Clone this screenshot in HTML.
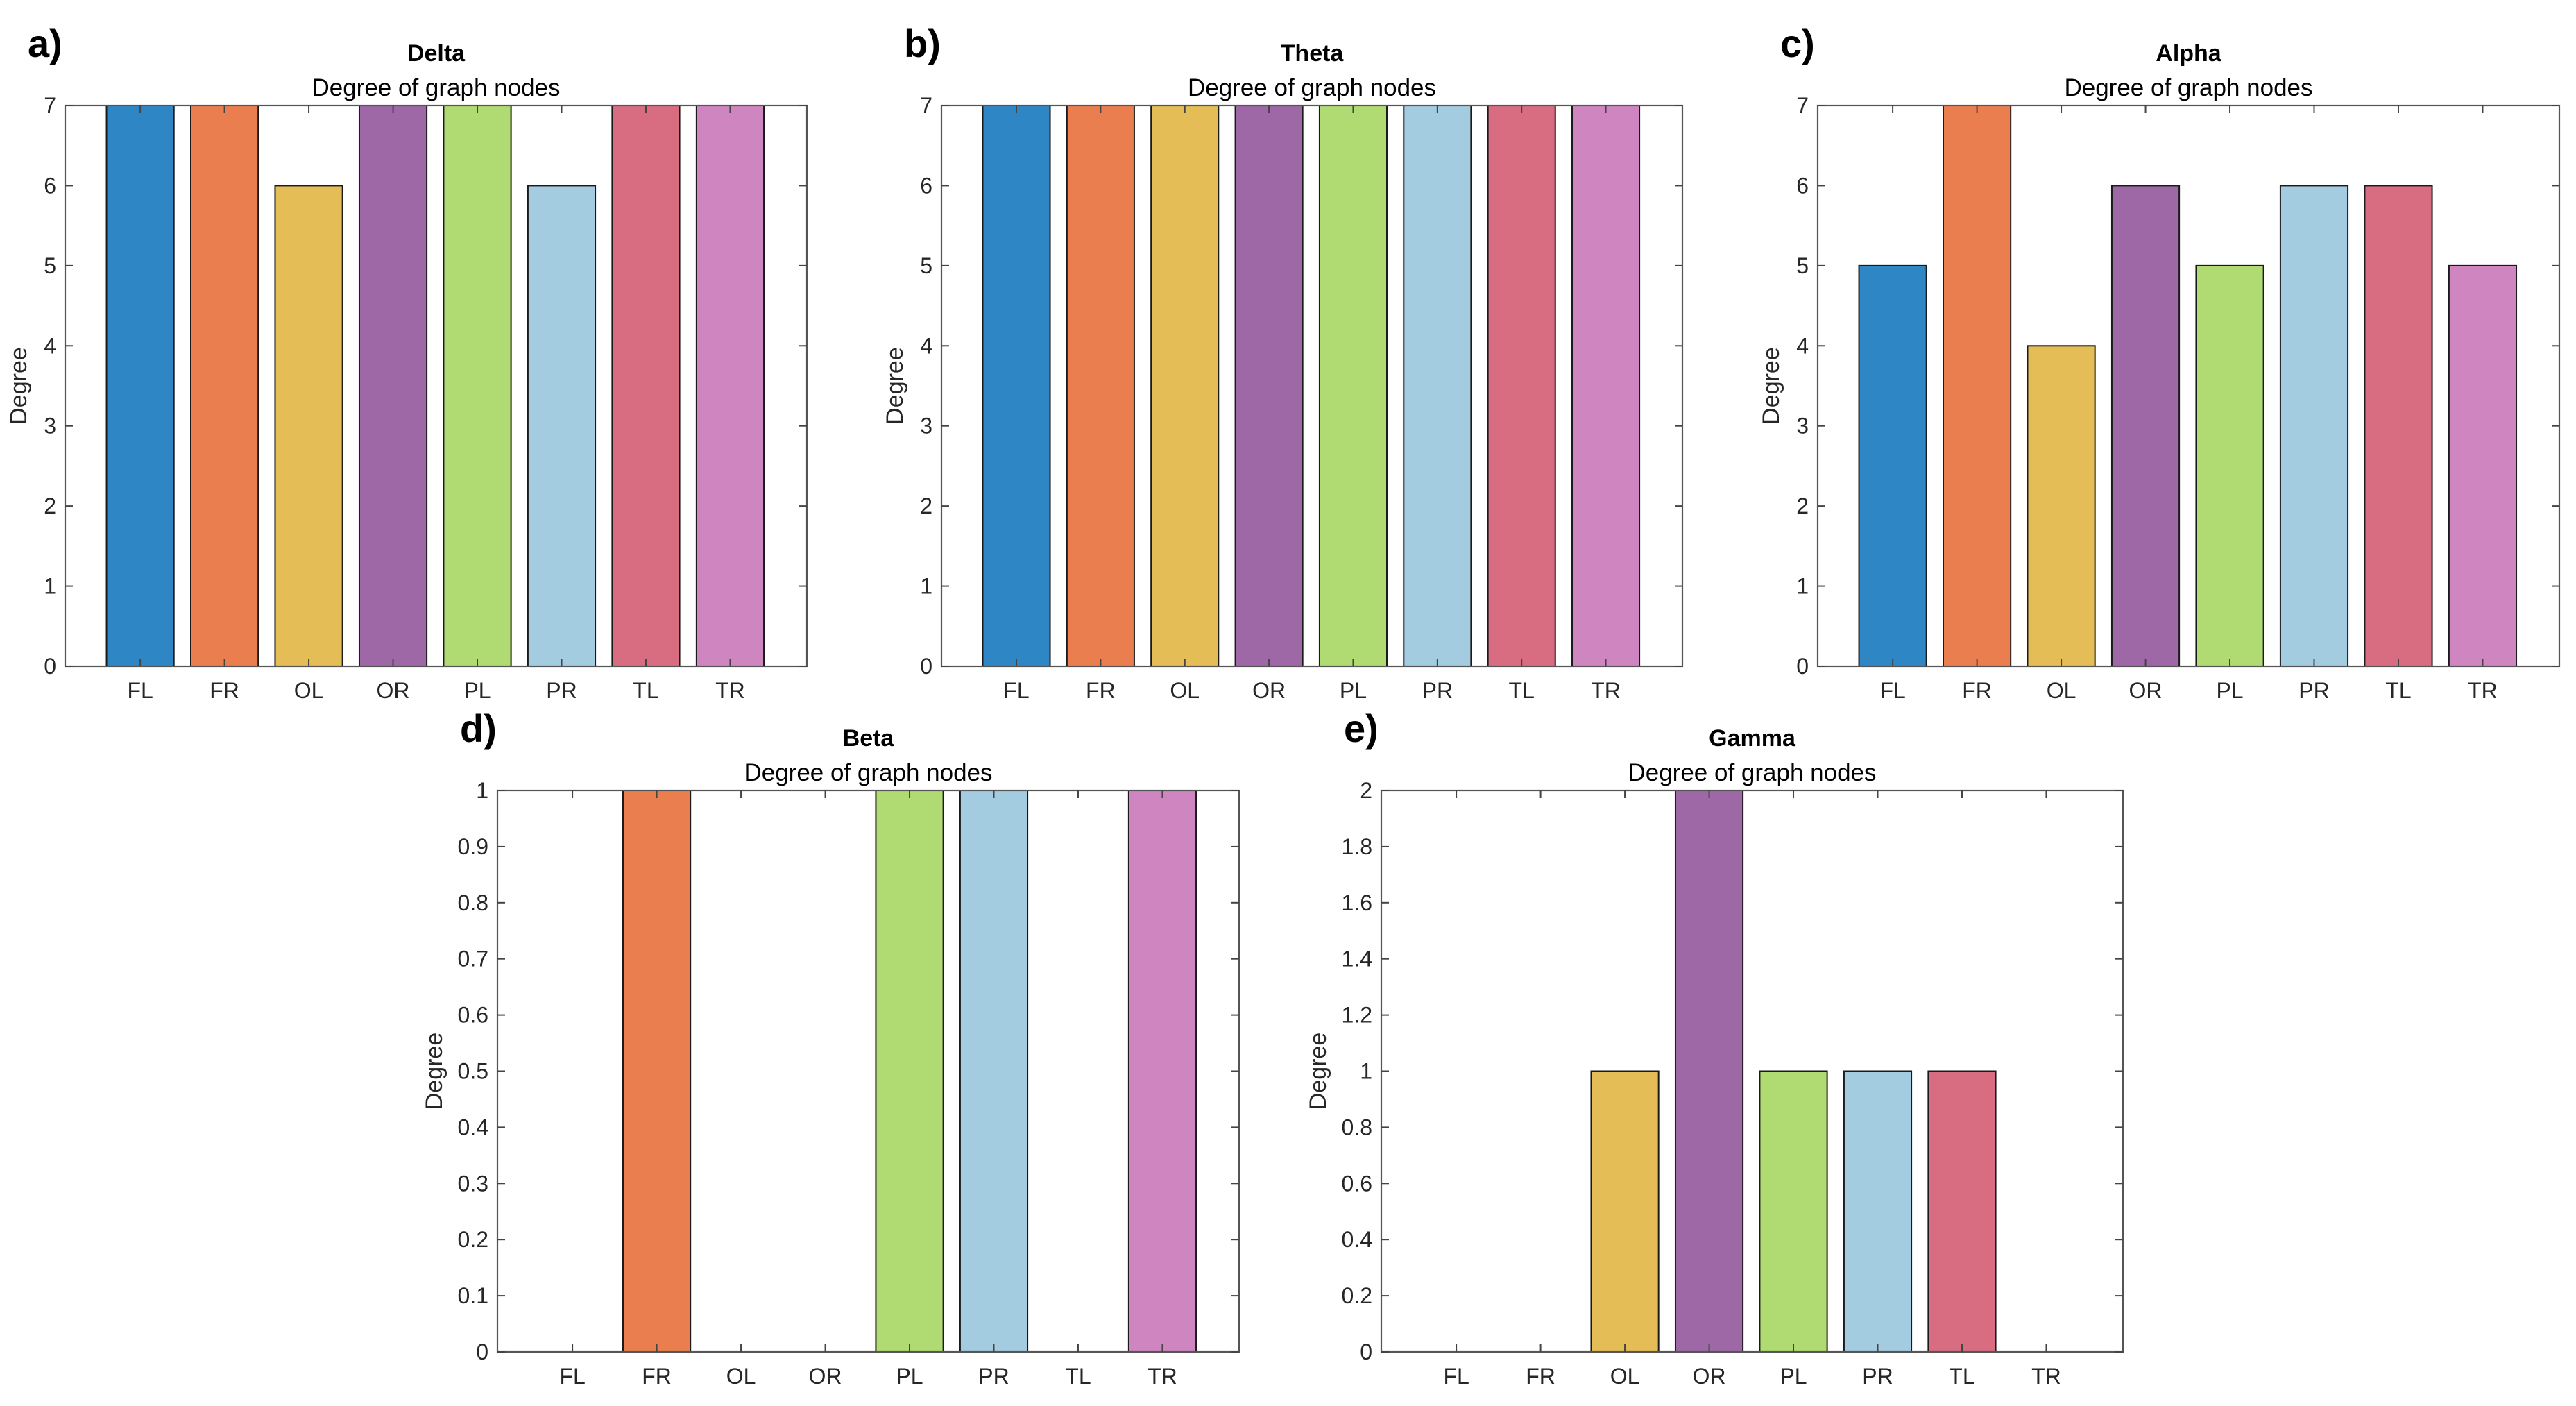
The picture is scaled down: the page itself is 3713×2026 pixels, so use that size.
<!DOCTYPE html>
<html><head><meta charset="utf-8"><style>
html,body{margin:0;padding:0;background:#fff;}
svg{display:block;font-family:"Liberation Sans",Arial,sans-serif;}
</style></head><body>
<svg id="fig" width="3713" height="2026" viewBox="0 0 3713 2026" xmlns="http://www.w3.org/2000/svg"></svg>
<script>
const categories = ["FL","FR","OL","OR","PL","PR","TL","TR"];
const deltaValues = [7,7,6,7,7,6,7,7];
const thetaValues = [7,7,7,7,7,7,7,7];
const alphaValues = [5,7,4,6,5,6,6,5];
const betaValues  = [0,1,0,0,1,1,0,1];
const gammaValues = [0,0,1,2,1,1,1,0];
const ticks7 = [0,1,2,3,4,5,6,7];
const ticks1 = [0,0.1,0.2,0.3,0.4,0.5,0.6,0.7,0.8,0.9,1];
const ticks2 = [0,0.2,0.4,0.6,0.8,1,1.2,1.4,1.6,1.8,2];
const colors = ["#2e86c5","#eb7e4f","#e4bd57","#9e68a7","#b0db73","#a4cce0","#d86d82","#cf86c0"];

const NS="http://www.w3.org/2000/svg";
const svg=document.getElementById('fig');
function mk(tag,attrs,parent){const e=document.createElementNS(NS,tag);for(const k in attrs)e.setAttribute(k,attrs[k]);(parent||svg).appendChild(e);return e;}

const panels=[
 {id:'a',title:'Delta',vals:deltaValues,ticks:ticks7,ymax:7,L:94,R:1163,T:152,B:960,yo:56},
 {id:'b',title:'Theta',vals:thetaValues,ticks:ticks7,ymax:7,L:1357,R:2425,T:152,B:960,yo:56},
 {id:'c',title:'Alpha',vals:alphaValues,ticks:ticks7,ymax:7,L:2620,R:3689,T:152,B:960,yo:56},
 {id:'d',title:'Beta',vals:betaValues,ticks:ticks1,ymax:1,L:717,R:1786,T:1139,B:1948,yo:80},
 {id:'e',title:'Gamma',vals:gammaValues,ticks:ticks2,ymax:2,L:1991,R:3060,T:1139,B:1948,yo:80}
];

panels.forEach(p=>{
  const g=mk('g',{});
  
  
  const step=(p.R-p.L)/8.8;
  const xs=i=>p.L+(i+1-0.11)*step;
  const ys=v=>p.B-(v/p.ymax)*(p.B-p.T);
  const bw=step*0.8;
  p.vals.forEach((v,i)=>{
    if(v<=0)return;
    const r=mk('rect',{x:xs(i)-bw/2,y:ys(v),width:bw,height:ys(0)-ys(v),fill:colors[i],stroke:'#1a1a1a','stroke-width':2},g);
    
    
  });
  const box=mk('rect',{x:p.L,y:p.T,width:p.R-p.L,height:p.B-p.T,fill:'none',stroke:'#555','stroke-width':2.2},g);
  
  
  p.ticks.forEach(t=>{
    const y=ys(t);
    mk('line',{x1:p.L,x2:p.L+11,y1:y,y2:y,stroke:'#444','stroke-width':2},g);
    mk('line',{x1:p.R,x2:p.R-11,y1:y,y2:y,stroke:'#444','stroke-width':2},g);
    const tx=mk('text',{x:p.L-13,y:y+11,'text-anchor':'end','font-size':32,fill:'#262626'},g);
    tx.textContent=String(t);
    
    
  });
  categories.forEach((c,i)=>{
    const x=xs(i);
    mk('line',{x1:x,x2:x,y1:p.B,y2:p.B-11,stroke:'#444','stroke-width':2},g);
    mk('line',{x1:x,x2:x,y1:p.T,y2:p.T+11,stroke:'#444','stroke-width':2},g);
    const tx=mk('text',{x:x,y:p.B+46,'text-anchor':'middle','font-size':32,fill:'#262626'},g);
    tx.textContent=c;
    
    
  });
  const cx=(p.L+p.R)/2;
  const t1=mk('text',{x:cx,y:p.T-64,'text-anchor':'middle','font-size':34,'font-weight':'bold',fill:'#000'},g);
  t1.textContent=p.title;
  
  
  const t2=mk('text',{x:cx,y:p.T-14,'text-anchor':'middle','font-size':35,fill:'#000'},g);
  t2.textContent='Degree of graph nodes';
  
  
  const yl=p.L-p.yo, ym=(p.T+p.B)/2;
  const t3=mk('text',{x:yl,y:ym,'text-anchor':'middle','font-size':34,fill:'#262626',transform:'rotate(-90 '+yl+' '+ym+')'},g);
  t3.textContent='Degree';
  
  
  const lb=mk('text',{x:p.L-54,y:p.T-70,'font-size':56,'font-weight':'bold',fill:'#000'},g);
  lb.textContent=p.id+')';
  
  
});
</script>
</body></html>
